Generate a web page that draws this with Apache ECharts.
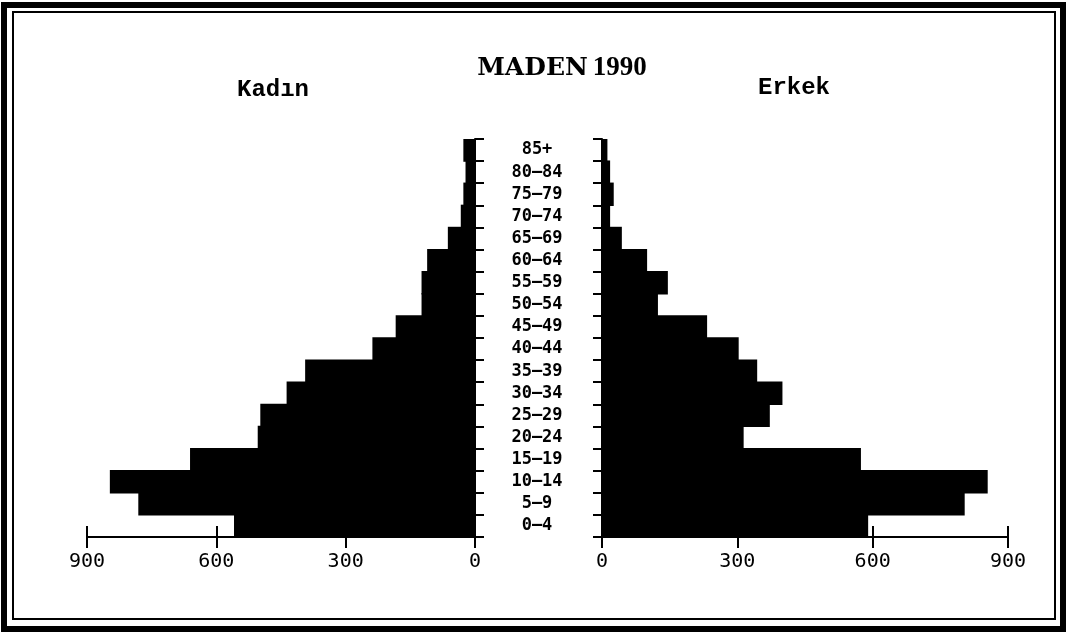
<!DOCTYPE html>
<html>
<head>
<meta charset="utf-8">
<title>MADEN 1990</title>
<script src="https://cdn.jsdelivr.net/npm/echarts@6/dist/echarts.min.js"></script>
<style>
  html, body { margin: 0; padding: 0; background: #fff; }
  #chart { width: 1069px; height: 636px; }
</style>
</head>
<body>
<div id="chart"></div>
<script>
  // yaş grupları (alttan üste)
  var ageGroups = ['0–4', '5–9', '10–14', '15–19', '20–24', '25–29', '30–34', '35–39', '40–44',
                   '45–49', '50–54', '55–59', '60–64', '65–69', '70–74', '75–79', '80–84', '85+'];
  // kadın nüfusu
  var femaleValues = [559, 781, 847, 661, 504, 498, 437, 394, 238, 184, 124, 124, 111, 63, 33, 27, 22, 27];
  // erkek nüfusu
  var maleValues = [590, 804, 855, 574, 314, 372, 400, 344, 303, 233, 124, 146, 100, 44, 18, 26, 18, 12];
  // eksen değerleri
  var axisMax = 900;
  var axisStep = 300;

  var monoFont = '"DejaVu Sans Mono", "Liberation Mono", monospace';

  // alt eksen: ticks aşağı, etiketli
  function valueAxis(gridIndex, inverse) {
    return {
      type: 'value',
      gridIndex: gridIndex,
      position: 'bottom',
      inverse: inverse,
      min: 0,
      max: axisMax,
      interval: axisStep,
      splitLine: { show: false },
      axisLine: { show: true, lineStyle: { color: '#000', width: 2 } },
      axisTick: { show: true, inside: false, length: 11, lineStyle: { color: '#000', width: 2 } },
      axisLabel: { color: '#000', fontFamily: monoFont, fontSize: 20, margin: 15 }
    };
  }
  // aynı eksen, ticks yukarı (etiketsiz)
  function valueAxisUp(gridIndex, inverse) {
    return {
      type: 'value',
      gridIndex: gridIndex,
      position: 'bottom',
      inverse: inverse,
      min: 0,
      max: axisMax,
      interval: axisStep,
      splitLine: { show: false },
      axisLine: { show: false },
      axisTick: { show: true, inside: true, length: 11, lineStyle: { color: '#000', width: 2 } },
      axisLabel: { show: false }
    };
  }

  var option = {
    backgroundColor: '#fff',
    animation: false,
    title: {
      text: '{a|MADEN} {b|1990}',
      left: 557,
      top: 50,
      textAlign: 'center',
      textStyle: {
        rich: {
          a: { fontFamily: '"DejaVu Serif", serif', fontWeight: 'bold', fontSize: 25, color: '#000' },
          b: { fontFamily: '"Liberation Serif", serif', fontWeight: 'bold', fontSize: 27, color: '#000' }
        }
      }
    },
    graphic: [
      // çerçeve
      { type: 'rect', shape: { x: 4, y: 5, width: 1059, height: 624 },
        style: { fill: null, stroke: '#000', lineWidth: 6 } },
      { type: 'rect', shape: { x: 13, y: 12, width: 1042, height: 607 },
        style: { fill: null, stroke: '#000', lineWidth: 2 } },
      { type: 'text', left: 237, top: 78,
        style: { text: 'Kadın', font: 'bold 24px "Liberation Mono", monospace', fill: '#000' } },
      { type: 'text', left: 758, top: 76,
        style: { text: 'Erkek', font: 'bold 24px "Liberation Mono", monospace', fill: '#000' } }
    ],
    grid: [
      { left: 87, top: 139, width: 388, height: 398 },
      { left: 602, top: 139, width: 406, height: 398 }
    ],
    xAxis: [
      valueAxis(0, true),
      valueAxis(1, false),
      valueAxisUp(0, true),
      valueAxisUp(1, false)
    ],
    yAxis: [
      {
        type: 'category',
        gridIndex: 0,
        position: 'right',
        data: ageGroups,
        axisLine: { show: true, lineStyle: { color: '#000', width: 2 } },
        axisTick: { show: true, inside: false, length: 9, lineStyle: { color: '#000', width: 2 } },
        axisLabel: {
          color: '#000', fontFamily: monoFont, fontWeight: 'bold', fontSize: 17,
          align: 'center', margin: 62
        }
      },
      {
        type: 'category',
        gridIndex: 1,
        position: 'left',
        data: ageGroups,
        axisLine: { show: true, lineStyle: { color: '#000', width: 2 } },
        axisTick: { show: true, inside: false, length: 9, lineStyle: { color: '#000', width: 2 } },
        axisLabel: { show: false }
      }
    ],
    series: [
      {
        name: 'Kadın',
        type: 'bar',
        xAxisIndex: 0,
        yAxisIndex: 0,
        data: femaleValues,
        barWidth: '106%',   // komşu çubuklar arasında ince boşluk kalmasın
        itemStyle: { color: '#000' }
      },
      {
        name: 'Erkek',
        type: 'bar',
        xAxisIndex: 1,
        yAxisIndex: 1,
        data: maleValues,
        barWidth: '106%',
        itemStyle: { color: '#000' }
      }
    ]
  };

  var chart = echarts.init(document.getElementById('chart'));
  chart.setOption(option);
  window.onresize = chart.resize;
</script>
</body>
</html>
